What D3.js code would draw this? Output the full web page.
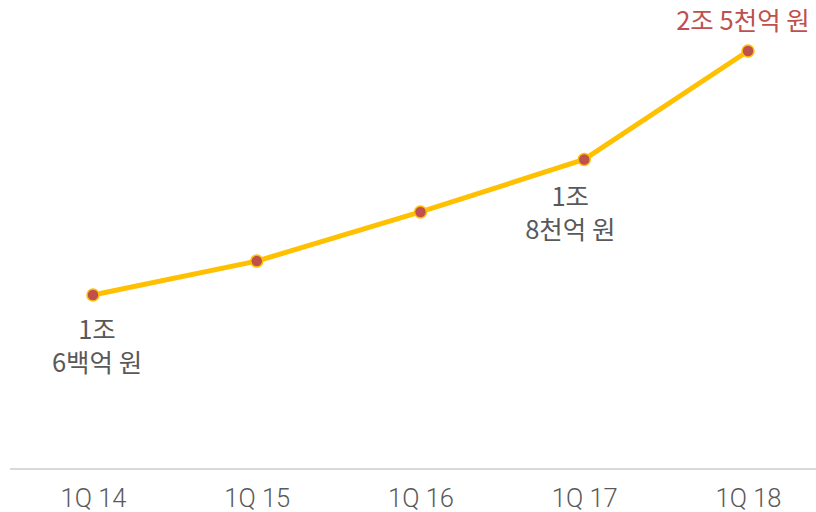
<!DOCTYPE html>
<html><head><meta charset="utf-8">
<script src="https://cdn.jsdelivr.net/npm/d3@7"></script>
<style>body{margin:0;background:#fff;}svg{display:block;}</style>
</head><body>
<script>
const categories = ["1Q 14", "1Q 15", "1Q 16", "1Q 17", "1Q 18"];
const values = [1.06, 1.26, 1.55, 1.86, 2.5]; // 조 원
const labelLines = [["1조", "6백억 원"], null, null, ["1조", "8천억 원"], ["2조 5천억 원"]];

const W = 816, H = 512;
const svg = d3.select("body").append("svg").attr("width", W).attr("height", H);
const font = "'Noto Sans CJK KR', 'Noto Sans', sans-serif";

const x = d3.scalePoint().domain(categories).range([93, 748]);
const y = d3.scaleLinear().domain([0, 2.5]).range([474.6, 51]);

// baseline
svg.append("line").attr("x1", 10).attr("x2", 816).attr("y1", 469).attr("y2", 469)
  .attr("stroke", "#d9d9d9").attr("stroke-width", 2);

// x axis labels
const xAxis = d3.axisBottom(x).tickSize(0).tickPadding(0);
const gx = svg.append("g").attr("transform", "translate(0,489)").call(xAxis);
gx.select(".domain").remove();
gx.selectAll("text").attr("font-family", "Roboto, sans-serif").attr("font-weight", 300)
  .attr("font-size", 25.5).attr("fill", "#595959").attr("dy", "0.71em");

const data = categories.map((c, i) => ({c, v: values[i], lab: labelLines[i]}));

svg.append("path").datum(data)
  .attr("d", d3.line().x(d => x(d.c)).y(d => y(d.v)))
  .attr("fill", "none").attr("stroke", "#ffc000").attr("stroke-width", 5).attr("stroke-linejoin", "round");

svg.selectAll("circle.pt").data(data).join("circle").attr("class", "pt")
  .attr("cx", d => x(d.c)).attr("cy", d => y(d.v)).attr("r", 6)
  .attr("fill", "#c0504d").attr("stroke", "#ffc000").attr("stroke-width", 1.5);

// labels
const labOffsets = {0: {dx: 4, dy: 35}, 3: {dx: -14, dy: 38}, 4: {dx: -5, dy: -30}};
data.forEach((d, i) => {
  if (!d.lab) return;
  const o = labOffsets[i];
  d.lab.forEach((s, k) => {
    svg.append("text").attr("text-anchor", "middle")
      .attr("font-family", font).attr("font-size", 25.5)
      .attr("fill", i === 4 ? "#c0504d" : "#595959")
      .attr("x", x(d.c) + o.dx).attr("y", y(d.v) + o.dy + k * 33)
      .attr("dy", "0.35em").text(s);
  });
});
</script>
</body></html>
